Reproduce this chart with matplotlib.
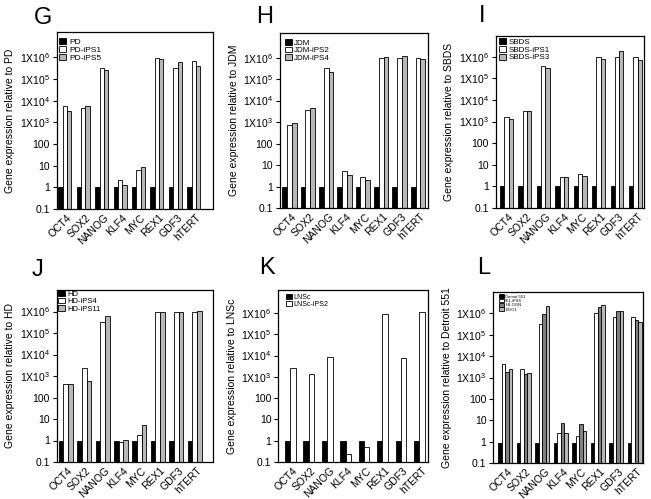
import matplotlib
matplotlib.use('Agg')
import matplotlib.pyplot as plt
from matplotlib.ticker import FixedLocator, FixedFormatter, NullLocator

plt.rcParams['font.family'] = ['Liberation Sans', 'DejaVu Sans']
plt.rcParams['mathtext.fontset'] = 'custom'
plt.rcParams['mathtext.rm'] = 'Liberation Sans'
plt.rcParams['mathtext.it'] = 'Liberation Sans:italic'
plt.rcParams['mathtext.default'] = 'regular'

# ---------------- data ----------------
genes = ['OCT4', 'SOX2', 'NANOG', 'KLF4', 'MYC', 'REX1', 'GDF3', 'hTERT']
ytick_values = [0.1, 1, 10, 100, 1e3, 1e4, 1e5, 1e6]
ytick_labels = ['0.1', '1', '10', '100', r'1X10$^{3}$', r'1X10$^{4}$',
                r'1X10$^{5}$', r'1X10$^{6}$']

G_series = ['PD', 'PD-iPS1', 'PD-iPS5']
G_pd = [1, 1, 1, 1, 1, 1, 1, 1]
G_ips1 = [5500, 4800, 330000, 2.2, 6.3, 950000, 320000, 680000]
G_ips5 = [3500, 5800, 270000, 1.3, 9.0, 880000, 620000, 420000]

H_series = ['JDM', 'JDM-iPS2', 'JDM-iPS4']
H_jdm = [1, 1, 1, 1, 1, 1, 1, 1]
H_ips2 = [750, 3700, 320000, 5.1, 2.8, 930000, 950000, 960000]
H_ips4 = [930, 4400, 225000, 3.3, 2.0, 1040000, 1150000, 870000]

I_series = ['SBDS', 'SBDS-iPS1', 'SBDS-iPS3']
I_sbds = [1, 1, 1, 1, 1, 1, 1, 1]
I_ips1 = [1600, 3000, 350000, 2.7, 3.6, 1000000, 1000000, 1000000]
I_ips3 = [1350, 3200, 290000, 2.7, 3.1, 800000, 1800000, 680000]

J_series = ['HD', 'HD-iPS4', 'HD-iPS11']
J_hd = [0.9, 0.9, 0.9, 0.9, 0.9, 0.9, 0.9, 0.9]
J_ips4 = [420, 2250, 320000, 0.85, 1.8, 950000, 950000, 950000]
J_ips11 = [420, 590, 590000, 1.1, 5.3, 950000, 900000, 1100000]

K_series = ['LNSc', 'LNSc-iPS2']
K_lnsc = [1, 1, 1, 1, 1, 1, 1, 1]
K_ips2 = [2500, 1350, 8500, 0.24, 0.5, 900000, 8000, 1100000]

L_series = ['Detroit 551', '551-iPS8', 'H1-OGN', 'BGO1']
L_detroit = [0.9, 0.9, 0.9, 0.9, 0.9, 0.9, 0.9, 0.9]
L_ips8 = [4400, 2400, 330000, 2.6, 1.9, 1000000, 650000, 650000]
L_h1 = [1800, 1500, 950000, 7.8, 6.4, 2000000, 1250000, 470000]
L_bgo1 = [2600, 1700, 2300000, 2.6, 3.3, 2400000, 1250000, 380000]

# ---------------- layout / style ----------------
W, HH = 651, 499
fig = plt.figure(figsize=(W / 100, HH / 100), dpi=100)

BLACK, WHITE, GRAY, DGRAY = '#000000', '#ffffff', '#b8b8b8', '#808080'

panels = [
    dict(letter='G', let=(43, 18), box=(56.7, 32, 213, 209), xlim=(-0.441, 8.04), ymax=1.5e7,
         bw=0.236, names=G_series, vals=[G_pd, G_ips1, G_ips5], cols=[BLACK, WHITE, GRAY],
         ylabel='Gene expression relative to PD', leg=(2.6, 11, 6.0, 0.75)),
    dict(letter='H', let=(265, 17), box=(280, 33, 428, 208), xlim=(-0.515, 7.55), ymax=1.4e7,
         bw=0.26, names=H_series, vals=[H_jdm, H_ips2, H_ips4], cols=[BLACK, WHITE, GRAY],
         ylabel='Gene expression relative to JDM', leg=(5, 10.3, 5.8, 0.75)),
    dict(letter='I', let=(482, 15.5), box=(495.7, 36, 644.3, 208), xlim=(-0.583, 7.48), ymax=9e6,
         bw=0.233, names=I_series, vals=[I_sbds, I_ips1, I_ips3], cols=[BLACK, WHITE, GRAY],
         ylabel='Gene expression relative to SBDS', leg=(3.3, 6.7, 5.8, 0.75)),
    dict(letter='J', let=(37.5, 270.5), box=(56.7, 290, 213.3, 462), xlim=(-0.49, 8.01), ymax=1e7,
         bw=0.255, names=J_series, vals=[J_hd, J_ips4, J_ips11], cols=[BLACK, WHITE, GRAY],
         ylabel='Gene expression relative to HD', leg=(1.6, 4.7, 5.5, 0.75)),
    dict(letter='K', let=(266.7, 268), box=(278.3, 290, 428.3, 462), xlim=(-0.653, 7.49), ymax=1.2e7,
         bw=0.29, names=K_series, vals=[K_lnsc, K_ips2], cols=[BLACK, WHITE],
         ylabel='Gene expression relative to LNSc', leg=(7.4, 7.7, 5.0, 0.75)),
    dict(letter='L', let=(484, 268), box=(493.3, 292, 643.3, 463), xlim=(-0.65, 7.47), ymax=1e7,
         bw=0.19, names=L_series, vals=[L_detroit, L_ips8, L_h1, L_bgo1],
         cols=[BLACK, WHITE, DGRAY, GRAY],
         ylabel='Gene expression relative to Detroit 551', leg=(6, 4.7, 3.0, 1.0)),
]

x = list(range(len(genes)))
for p in panels:
    l, t, r, b = p['box']
    ax = fig.add_axes([l / W, 1 - b / HH, (r - l) / W, (b - t) / HH])
    n = len(p['vals'])
    bw = p['bw']
    for k, (vals, col, name) in enumerate(zip(p['vals'], p['cols'], p['names'])):
        off = (k - (n - 1) / 2) * bw
        ax.bar([xi + off for xi in x], vals, width=bw, color=col, edgecolor='black',
               linewidth=0.6, label=name)
    ax.set_yscale('log')
    ax.set_ylim(0.1, p['ymax'])
    ax.set_xlim(*p['xlim'])
    ax.yaxis.set_major_locator(FixedLocator(ytick_values))
    ax.yaxis.set_major_formatter(FixedFormatter(ytick_labels))
    ax.yaxis.set_minor_locator(NullLocator())
    ax.tick_params(axis='y', direction='out', length=3, width=0.8, labelsize=7.5, pad=2)
    ax.tick_params(axis='x', length=0, labelsize=7.5, pad=2.5)
    ax.set_xticks([xi + 0.1 for xi in x])
    ax.set_xticklabels(genes, rotation=45, ha='right', va='top', rotation_mode='anchor')
    for s in ax.spines.values():
        s.set_linewidth(0.9)
    ax.set_ylabel(p['ylabel'], fontsize=7.5, labelpad=3)

    dx, c0, fs, hl = p['leg']
    axw, axh = r - l, b - t
    half = 0.56 * fs * 100 / 72
    ax.legend(loc='upper left', bbox_to_anchor=(dx / axw, 1 - (c0 - half) / axh),
              frameon=False, fontsize=fs, borderpad=0, borderaxespad=0,
              handlelength=hl * 1.15, handleheight=hl, handletextpad=0.3,
              labelspacing=0.0)

    fig.text(p['let'][0] / W, 1 - p['let'][1] / HH, p['letter'], fontsize=17,
             ha='center', va='center')

fig.savefig('out.png', dpi=100)
